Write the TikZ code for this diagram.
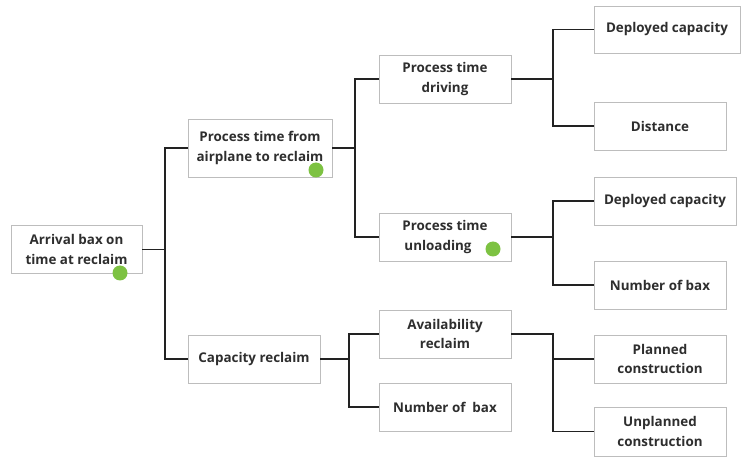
\documentclass[tikz,border=0pt]{standalone}
\usepackage{fontspec}
\setmainfont{Open Sans}
\definecolor{boxline}{HTML}{BDBDBD}
\definecolor{linkline}{HTML}{222222}
\definecolor{txt}{HTML}{2E2E2E}
\definecolor{mark}{HTML}{7DC242}
\begin{document}
\begin{tikzpicture}[x=1pt,y=-1pt,
  box/.style={draw=boxline,line width=0.9pt,fill=white,inner sep=0pt,
    align=center,text=txt,font=\fontsize{13.4}{19.5}\selectfont\bfseries},
  link/.style={draw=linkline,line width=1.8pt,line cap=rect},
  dot/.style={circle,fill=mark,inner sep=0pt,minimum size=15pt}]
\useasboundingbox (0,0) rectangle (748,457);
% level 0
\node[box,minimum width=131pt,minimum height=48pt] (root) at (76.5,249.5) {Arrival bax on\\time at reclaim};
% level 1
\node[box,minimum width=144pt,minimum height=58pt] (air) at (260,148) {Process time from\\airplane to reclaim};
\node[box,minimum width=132pt,minimum height=48pt] (cap) at (254,359) {Capacity reclaim};
% level 2
\node[box,minimum width=132pt,minimum height=48pt] (drive) at (445,79) {Process time\\driving};
\node[box,minimum width=132pt,minimum height=48pt] (unload) at (445,237) {Process time\\unloading\hspace*{14pt}};
\node[box,minimum width=132pt,minimum height=48pt] (avail) at (445,334) {Availability\\reclaim};
\node[box,minimum width=132pt,minimum height=48pt] (nbax) at (445,407) {Number of\ \ bax};
% level 3
\node[box,minimum width=146pt,minimum height=47pt] (dep1) at (667,29.5) {Deployed capacity};
\node[box,minimum width=132pt,minimum height=48pt] (dist) at (660,126) {Distance};
\node[box,minimum width=142pt,minimum height=48pt] (dep2) at (665,201) {Deployed capacity};
\node[box,minimum width=132pt,minimum height=48pt] (nbax2) at (660,285) {Number of bax};
\node[box,minimum width=132pt,minimum height=48pt] (plan) at (660,359) {Planned\\construction};
\node[box,minimum width=132pt,minimum height=49pt] (unplan) at (660,431.5) {Unplanned\\construction};
% markers
\node[dot] (m0) at (120,273) {};
\node[dot] (m1) at (316,170) {};
\node[dot] (m2) at (493,249) {};
% connectors
\coordinate (j0) at (165,249.5);
\draw[link] (root.east) -- (j0);
\draw[link] (air.west) -| (j0) |- (cap.west);
\coordinate (j1) at (355,148);
\draw[link] (air.east) -- (j1);
\draw[link] (drive.west) -| (j1) |- (unload.west);
\coordinate (j2) at (553,79);
\draw[link] (drive.east) -- (j2);
\draw[link] (dep1.west) -| (j2) |- (dist.west);
\coordinate (j3) at (553,237);
\draw[link] (unload.east) -- (j3);
\draw[link] (dep2.west) -| (j3) |- (nbax2.west);
\coordinate (j4) at (349,359);
\draw[link] (cap.east) -- (j4);
\draw[link] (avail.west) -| (j4) |- (nbax.west);
\coordinate (j5) at (553,334);
\draw[link] (avail.east) -- (j5) |- (unplan.west);
\draw[link] (j5 |- plan.west) -- (plan.west);
\end{tikzpicture}
\end{document}
